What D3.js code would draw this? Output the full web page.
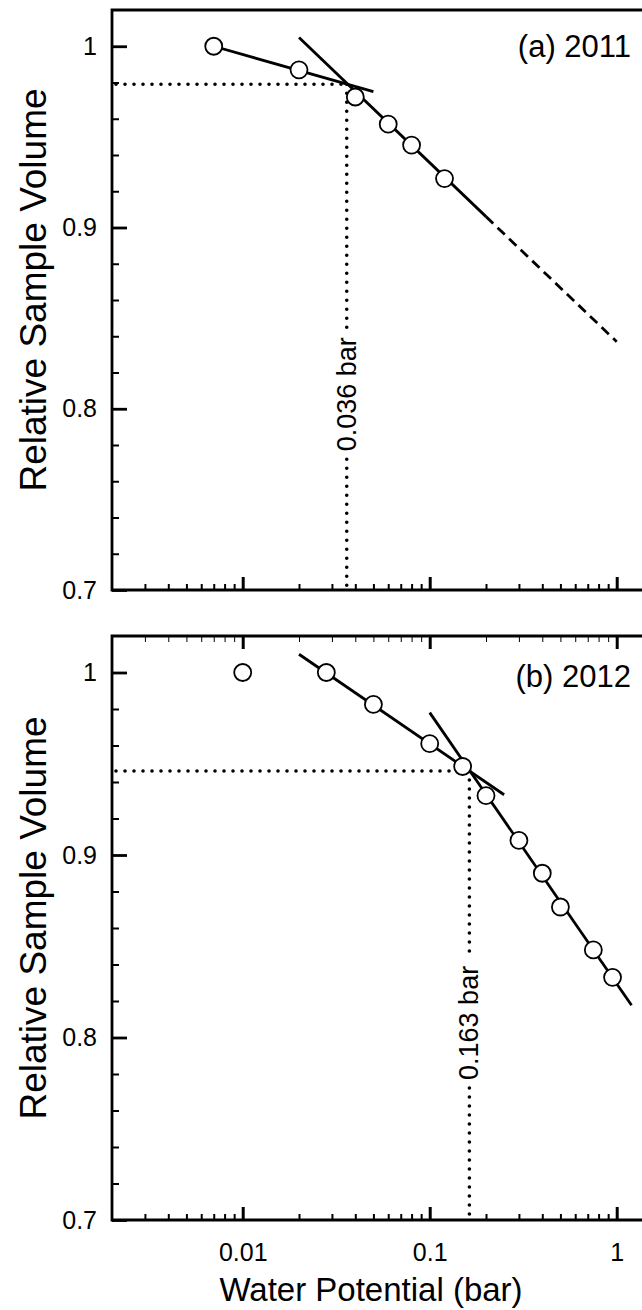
<!DOCTYPE html>
<html>
<head>
<meta charset="utf-8">
<script src="https://cdn.jsdelivr.net/npm/d3@7/dist/d3.min.js"></script>
<style>
  html, body { margin: 0; padding: 0; background: #fff; }
  svg { display: block; }
  text { font-family: "Liberation Sans", Arial, Helvetica, sans-serif; fill: #000; }
</style>
</head>
<body>
<svg id="chart" width="642" height="1310"></svg>
<script>
// ---------- data ----------
const xMajorTicks = [0.01, 0.1, 1];
const xMajorLabels = ["0.01", "0.1", "1"];
const xMinorTicks = [0.003,0.004,0.005,0.006,0.007,0.008,0.009,
                     0.02,0.03,0.04,0.05,0.06,0.07,0.08,0.09,
                     0.2,0.3,0.4,0.5,0.6,0.7,0.8,0.9];
const yMajorTicks = [0.7, 0.8, 0.9, 1];
const yMajorLabels = ["0.7", "0.8", "0.9", "1"];
const yMinorTicks = [0.72,0.74,0.76,0.78,0.82,0.84,0.86,0.88,0.92,0.94,0.96,0.98];

// panel (a) 2011
const wpA  = [0.007, 0.02, 0.04, 0.06, 0.08, 0.12];
const volA = [1.0, 0.987, 0.972, 0.957, 0.9455, 0.927];
const shallowA_wp = [0.007, 0.05], shallowA_vol = [1.0, 0.975];
const steepA_wp   = [0.02, 0.2],   steepA_vol   = [1.0048, 0.906];
const dashA_wp    = [0.2, 1.0],    dashA_vol    = [0.906, 0.837];
const breakA_wp = 0.036, breakA_vol = 0.979, breakA_label = "0.036 bar";

// panel (b) 2012
const wpB  = [0.01, 0.028, 0.05, 0.1, 0.15, 0.2, 0.3, 0.4, 0.5, 0.75, 0.95];
const volB = [1.0, 1.0, 0.9825, 0.961, 0.9485, 0.9325, 0.908, 0.89, 0.8715, 0.848, 0.833];
const shallowB_wp = [0.02, 0.25], shallowB_vol = [1.01, 0.933];
const steepB_wp   = [0.1, 1.2],   steepB_vol   = [0.978, 0.8177];
const breakB_wp = 0.163, breakB_vol = 0.946, breakB_label = "0.163 bar";

const labelVol = 0.808; // vertical centre of the break labels

// ---------- layout ----------
const svg = d3.select("#chart");
const left = 112, decade = 187;
const x = d3.scaleLog().domain([0.002, 2]).range([left, left + 3 * decade]);

const panels = [
  { top: 10, bottom: 590, title: "(a) 2011", titleY: 46, topTicks: false,
    wp: wpA, vol: volA,
    solid: [[shallowA_wp, shallowA_vol], [steepA_wp, steepA_vol]],
    dashed: [[dashA_wp, dashA_vol]],
    bwp: breakA_wp, bvol: breakA_vol, blabel: breakA_label, xLabels: false },
  { top: 636, bottom: 1220, title: "(b) 2012", titleY: 676, topTicks: true,
    wp: wpB, vol: volB,
    solid: [[shallowB_wp, shallowB_vol], [steepB_wp, steepB_vol]],
    dashed: [],
    bwp: breakB_wp, bvol: breakB_vol, blabel: breakB_label, xLabels: true }
];

const lineGen = (y) => d3.line().x(d => x(d[0])).y(d => y(d[1]));

panels.forEach(p => {
  const y = d3.scaleLinear().domain([0.7, 1.02]).range([p.bottom, p.top]);
  const g = svg.append("g");
  const right = x(2);

  // dotted guide lines
  const dotStyle = sel => sel.attr("stroke", "#000").attr("stroke-width", 3.6)
      .attr("stroke-linecap", "round").attr("stroke-dasharray", "0 9").attr("fill", "none");
  g.append("line").call(dotStyle)
    .attr("x1", x(0.002) + 4).attr("x2", x(p.bwp))
    .attr("y1", y(p.bvol)).attr("y2", y(p.bvol));

  const lbl = g.append("text")
    .attr("transform", `translate(${x(p.bwp)},${y(labelVol)}) rotate(-90)`)
    .attr("text-anchor", "middle").attr("dominant-baseline", "central")
    .attr("font-size", 27).text(p.blabel);
  const bb = lbl.node().getBBox();
  const half = bb.width / 2 + 8;
  g.append("line").call(dotStyle)
    .attr("x1", x(p.bwp)).attr("x2", x(p.bwp))
    .attr("y1", y(p.bvol)).attr("y2", y(labelVol) - half);
  g.append("line").call(dotStyle)
    .attr("x1", x(p.bwp)).attr("x2", x(p.bwp))
    .attr("y1", y(labelVol) + half).attr("y2", p.bottom - 2);

  // fit lines
  p.solid.forEach(([wp, vol]) => {
    g.append("path").datum(wp.map((w, i) => [w, vol[i]]))
      .attr("d", lineGen(y)).attr("stroke", "#000").attr("stroke-width", 2.8).attr("fill", "none");
  });
  p.dashed.forEach(([wp, vol]) => {
    g.append("path").datum(wp.map((w, i) => [w, vol[i]]))
      .attr("d", lineGen(y)).attr("stroke", "#000").attr("stroke-width", 2.8)
      .attr("stroke-dasharray", "10 6").attr("fill", "none");
  });

  // points
  g.selectAll("circle.pt").data(p.wp.map((w, i) => [w, p.vol[i]])).enter()
    .append("circle").attr("class", "pt")
    .attr("cx", d => x(d[0])).attr("cy", d => y(d[1])).attr("r", 8.5)
    .attr("fill", "#fff").attr("stroke", "#000").attr("stroke-width", 1.8);

  // axes
  const ax = g.append("g").attr("transform", `translate(0,${p.bottom})`);
  ax.call(d3.axisBottom(x).tickValues(xMinorTicks).tickSize(-6).tickSizeOuter(0).tickFormat(""));
  ax.call(g2 => g2.select(".domain").remove());
  const axM = g.append("g").attr("transform", `translate(0,${p.bottom})`);
  axM.call(d3.axisBottom(x).tickValues(xMajorTicks).tickSize(-13).tickSizeOuter(0)
    .tickPadding(23).tickFormat((d, i) => p.xLabels ? xMajorLabels[i] : ""));
  axM.select(".domain").remove();
  axM.selectAll(".tick text").attr("font-size", 25).attr("font-family", "Liberation Sans, Arial, sans-serif");

  if (p.topTicks) {
    const at = g.append("g").attr("transform", `translate(0,${p.top})`);
    at.call(d3.axisTop(x).tickValues(xMinorTicks).tickSize(-6).tickSizeOuter(0).tickFormat(""));
    at.select(".domain").remove();
    const atM = g.append("g").attr("transform", `translate(0,${p.top})`);
    atM.call(d3.axisTop(x).tickValues(xMajorTicks).tickSize(-13).tickSizeOuter(0).tickFormat(""));
    atM.select(".domain").remove();
    atM.selectAll(".tick line").attr("stroke-width", 3);
  }

  const ay = g.append("g").attr("transform", `translate(${left},0)`);
  ay.call(d3.axisLeft(y).tickValues(yMinorTicks).tickSize(-7).tickSizeOuter(0).tickFormat(""));
  ay.select(".domain").remove();
  const ayM = g.append("g").attr("transform", `translate(${left},0)`);
  ayM.call(d3.axisLeft(y).tickValues(yMajorTicks).tickSize(-15).tickSizeOuter(0)
    .tickPadding(15).tickFormat((d, i) => yMajorLabels[i]));
  ayM.select(".domain").remove();
  ayM.selectAll(".tick text").attr("font-size", 25).attr("font-family", "Liberation Sans, Arial, sans-serif");

  ax.selectAll(".tick line").attr("stroke", "#000").attr("stroke-width", 2);
  ay.selectAll(".tick line").attr("stroke", "#000").attr("stroke-width", 2);
  ayM.selectAll(".tick line").attr("stroke", "#000").attr("stroke-width", 2.8);
  axM.selectAll(".tick line").attr("stroke", "#000").attr("stroke-width", 3);

  // frame
  g.append("path")
    .attr("d", `M${right},${p.top}H${left}V${p.bottom}H${right}`)
    .attr("fill", "none").attr("stroke", "#000").attr("stroke-width", 2.8);

  // y title
  g.append("text")
    .attr("transform", `translate(33,${(p.top + p.bottom) / 2 - 10}) rotate(-90)`)
    .attr("text-anchor", "middle").attr("dominant-baseline", "central")
    .attr("font-size", 37).text("Relative Sample Volume");

  // panel title
  g.append("text").attr("x", 631).attr("y", p.titleY)
    .attr("text-anchor", "end").attr("dominant-baseline", "central")
    .attr("font-size", 31).text(p.title);
});

svg.append("text").attr("x", 371).attr("y", 1289)
  .attr("text-anchor", "middle").attr("dominant-baseline", "central")
  .attr("font-size", 33).text("Water Potential (bar)");
</script>
</body>
</html>
